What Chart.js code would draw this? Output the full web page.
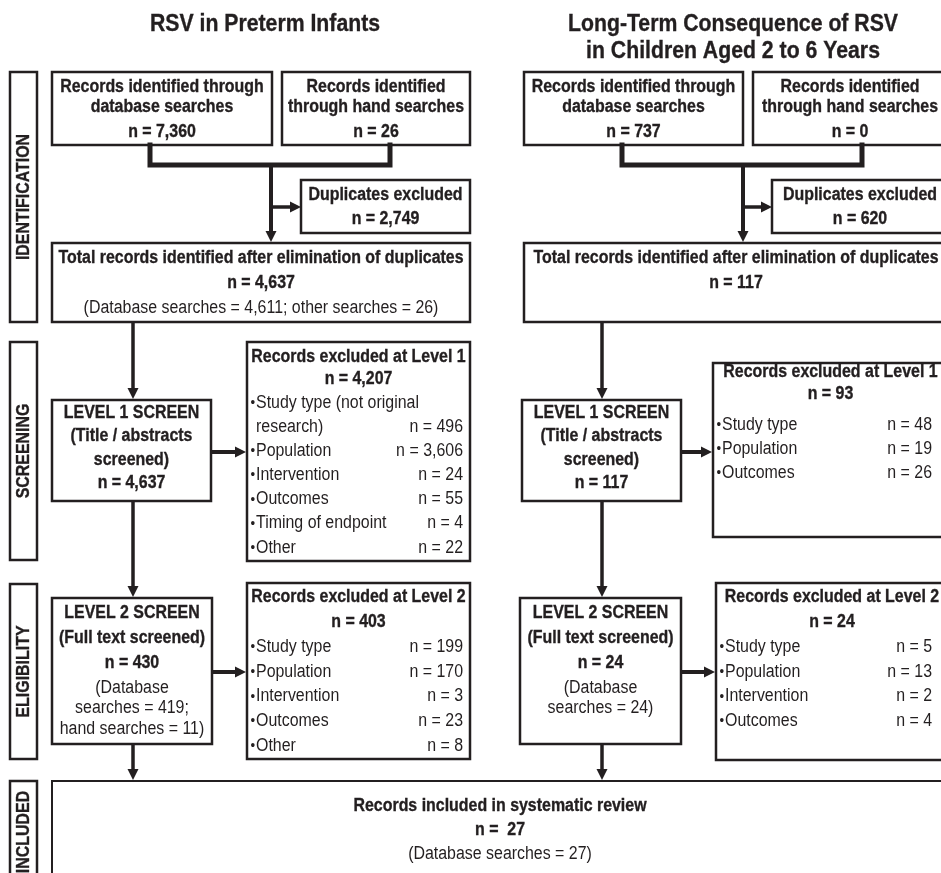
<!DOCTYPE html>
<html>
<head>
<meta charset="utf-8">
<script src="https://cdn.jsdelivr.net/npm/chart.js@4.4.1/dist/chart.umd.min.js"></script>
<style>
  html, body { margin: 0; padding: 0; background: #fff; }
</style>
</head>
<body>
<canvas id="flow" width="941" height="873"></canvas>
<script>
// Counts of the two systematic-review flows (preterm infants / long-term consequence)
const columnTitles = [['RSV in Preterm Infants'], ['Long-Term Consequence of RSV', 'in Children Aged 2 to 6 Years']];
const stageLabels = ['IDENTIFICATION', 'SCREENING', 'ELIGIBILITY', 'INCLUDED'];

const databaseRecords = [7360, 737];
const handRecords = [26, 0];
const duplicatesExcluded = [2749, 620];
const totalAfterDuplicates = [4637, 117];
const totalFromDatabase = [4611, null];
const totalFromOther = [26, null];

const level1Screened = [4637, 117];
const level1Excluded = [4207, 93];
const level1Reasons = [
  ['Study type (not original\nresearch)', 'Population', 'Intervention', 'Outcomes', 'Timing of endpoint', 'Other'],
  ['Study type', 'Population', 'Outcomes'],
];
const level1Counts = [
  [496, 3606, 24, 55, 4, 22],
  [48, 19, 26],
];

const level2Screened = [430, 24];
const level2FromDatabase = [419, 24];
const level2FromHand = [11, null];
const level2Excluded = [403, 24];
const level2Reasons = [
  ['Study type', 'Population', 'Intervention', 'Outcomes', 'Other'],
  ['Study type', 'Population', 'Intervention', 'Outcomes'],
];
const level2Counts = [
  [199, 170, 3, 23, 8],
  [5, 13, 2, 4],
];

const includedTotal = 27;
const includedFromDatabase = 27;

// layout of the diagram (in axis units, same as pixels here)
const layout = [
  {
    titleX: 265, titleY: [24],
    db: [52, 72, 272, 145], hand: [282, 72, 470, 145],
    joinL: 150, joinR: 390, joinY: 165, trunk: 271, branchY: 207,
    dup: [301, 180, 470, 233], total: [52, 243, 470, 322],
    mid: 133,
    l1: [52, 400, 211, 501], ex1: [247, 342, 470, 561], ex1Y: [357, 379, 403], ex1Step: 24.1,
    l2: [52, 598, 212, 744], ex2: [247, 583, 470, 759], ex2Y: [597, 622, 647], ex2Step: 24.75,
    arrow1Y: 452, arrow2Y: 672, valueX: 463,
  },
  {
    titleX: 733, titleY: [24, 51],
    db: [524, 72, 743, 145], hand: [753, 72, 947, 145],
    joinL: 622, joinR: 862, joinY: 165, trunk: 743, branchY: 207,
    dup: [772, 180, 948, 233], total: [524, 243, 948, 322],
    mid: 602,
    l1: [522, 400, 681, 501], ex1: [713, 363, 948, 537], ex1Y: [372, 394, 425], ex1Step: 24,
    l2: [520, 598, 681, 744], ex2: [716, 583, 948, 760], ex2Y: [597, 622, 647], ex2Step: 24.75,
    arrow1Y: 452, arrow2Y: 672, valueX: 932,
  },
];
const stageBoxes = [[10, 72, 37, 322], [10, 342, 37, 560], [10, 584, 37, 759], [10, 781, 37, 900]];
const includedBox = [52, 781, 960, 900];

const INK = '#231f20';
const FAMILY = '"Liberation Sans", Arial, Helvetica, sans-serif';
const NARROW = 0.885; // horizontal squeeze to look like a condensed face
const fmt = v => v.toLocaleString('en-US');

const flowPlugin = {
  id: 'flow',
  afterDraw(chart) {
    const ctx = chart.ctx;
    const X = v => chart.scales.x.getPixelForValue(v);
    const Y = v => chart.scales.y.getPixelForValue(v);

    function text(str, x, y, bold, size, align) {
      ctx.save();
      ctx.translate(X(x), Y(y));
      ctx.scale(NARROW, 1);
      ctx.font = (bold ? 'bold ' : '') + (size || 18) + 'px ' + FAMILY;
      ctx.fillStyle = INK;
      ctx.textAlign = align || 'center';
      ctx.textBaseline = 'middle';
      ctx.fillText(str, 0, 0);
      if (bold) {
        ctx.lineWidth = 0.35;
        ctx.strokeStyle = INK;
        ctx.strokeText(str, 0, 0);
      }
      ctx.restore();
    }
    function box(b, lw) {
      ctx.lineWidth = lw || 2.5;
      ctx.strokeStyle = INK;
      ctx.strokeRect(X(b[0]), Y(b[1]), X(b[2]) - X(b[0]), Y(b[3]) - Y(b[1]));
    }
    function line(pts, lw) {
      ctx.lineWidth = lw;
      ctx.strokeStyle = INK;
      ctx.lineJoin = 'miter';
      ctx.lineCap = 'square';
      ctx.beginPath();
      pts.forEach((p, i) => i ? ctx.lineTo(X(p[0]), Y(p[1])) : ctx.moveTo(X(p[0]), Y(p[1])));
      ctx.stroke();
    }
    function arrow(x1, y1, x2, y2, lw) {
      const len = 11, half = 5.5;
      const ang = Math.atan2(Y(y2) - Y(y1), X(x2) - X(x1));
      const bx = X(x2) - Math.cos(ang) * len, by = Y(y2) - Math.sin(ang) * len;
      ctx.lineCap = 'butt';
      ctx.lineWidth = lw || 3.5;
      ctx.strokeStyle = INK;
      ctx.beginPath();
      ctx.moveTo(X(x1), Y(y1));
      ctx.lineTo(bx + Math.cos(ang) * 2, by + Math.sin(ang) * 2);
      ctx.stroke();
      ctx.fillStyle = INK;
      ctx.beginPath();
      ctx.moveTo(X(x2), Y(y2));
      ctx.lineTo(bx - Math.sin(ang) * half, by + Math.cos(ang) * half);
      ctx.lineTo(bx + Math.sin(ang) * half, by - Math.cos(ang) * half);
      ctx.closePath();
      ctx.fill();
    }
    const cx = b => (b[0] + b[2]) / 2;

    ctx.save();
    // stage side labels
    stageBoxes.forEach((b, i) => {
      box(b);
      ctx.save();
      const my = i === 3 ? 832 : (b[1] + b[3]) / 2;
      ctx.translate(X(cx(b)) + 1, Y(my));
      ctx.rotate(-Math.PI / 2);
      ctx.scale(NARROW, 1);
      ctx.font = 'bold 18px ' + FAMILY;
      ctx.fillStyle = INK;
      ctx.textAlign = 'center';
      ctx.textBaseline = 'middle';
      ctx.fillText(stageLabels[i], 0, 0);
      ctx.lineWidth = 0.35;
      ctx.strokeStyle = INK;
      ctx.strokeText(stageLabels[i], 0, 0);
      ctx.restore();
    });

    layout.forEach((L, c) => {
      L.titleY.forEach((y, k) => text(columnTitles[c][k], L.titleX, y, true, 24));

      box(L.db);
      text('Records identified through', cx(L.db), 87, true);
      text('database searches', cx(L.db), 107, true);
      text('n = ' + fmt(databaseRecords[c]), cx(L.db), 132, true);

      box(L.hand);
      text('Records identified', cx(L.hand), 87, true);
      text('through hand searches', cx(L.hand), 107, true);
      text('n = ' + fmt(handRecords[c]), cx(L.hand), 132, true);

      line([[L.joinL, L.db[3]], [L.joinL, L.joinY], [L.joinR, L.joinY], [L.joinR, L.hand[3]]], 5);
      arrow(L.trunk, L.joinY, L.trunk, L.total[1] - 1, 4);
      arrow(L.trunk, L.branchY, L.dup[0], L.branchY, 3.5);

      box(L.dup);
      text('Duplicates excluded', cx(L.dup), 195, true);
      text('n = ' + fmt(duplicatesExcluded[c]), cx(L.dup), 219, true);

      box(L.total);
      text('Total records identified after elimination of duplicates', cx(L.total), 258, true);
      text('n = ' + fmt(totalAfterDuplicates[c]), cx(L.total), 283, true);
      if (totalFromDatabase[c] !== null) {
        text('(Database searches = ' + fmt(totalFromDatabase[c]) + '; other searches = ' + fmt(totalFromOther[c]) + ')', cx(L.total), 308, false);
      }

      arrow(L.mid, L.total[3], L.mid, L.l1[1] - 1, 3.5);
      box(L.l1);
      ['LEVEL 1 SCREEN', '(Title / abstracts', 'screened)', 'n = ' + fmt(level1Screened[c])]
        .forEach((s, k) => text(s, cx(L.l1), 413 + k * 23.3, true));
      arrow(L.l1[2], L.arrow1Y, L.ex1[0] - 1, L.arrow1Y, 4);

      box(L.ex1);
      text('Records excluded at Level 1', cx(L.ex1), L.ex1Y[0], true);
      text('n = ' + fmt(level1Excluded[c]), cx(L.ex1), L.ex1Y[1], true);
      let y = L.ex1Y[2];
      level1Reasons[c].forEach((r, k) => {
        const parts = r.split('\n');
        text('\u2022', L.ex1[0] + 3.5, y, false, 15, 'left');
        parts.forEach((p, j) => {
          text(p, L.ex1[0] + 9, y, false, 18, 'left');
          if (j === parts.length - 1) text('n = ' + fmt(level1Counts[c][k]), L.valueX, y, false, 18, 'right');
          y += L.ex1Step;
        });
      });

      arrow(L.mid, L.l1[3], L.mid, L.l2[1] - 1, 3.5);
      box(L.l2);
      text('LEVEL 2 SCREEN', cx(L.l2), 613, true);
      text('(Full text screened)', cx(L.l2), 638, true);
      text('n = ' + fmt(level2Screened[c]), cx(L.l2), 663, true);
      text('(Database', cx(L.l2), 688, false);
      if (level2FromHand[c] !== null) {
        text('searches = ' + fmt(level2FromDatabase[c]) + ';', cx(L.l2), 708.5, false);
        text('hand searches = ' + fmt(level2FromHand[c]) + ')', cx(L.l2), 729, false);
      } else {
        text('searches = ' + fmt(level2FromDatabase[c]) + ')', cx(L.l2), 708.5, false);
      }
      arrow(L.l2[2], L.arrow2Y, L.ex2[0] - 1, L.arrow2Y, 4);

      box(L.ex2);
      text('Records excluded at Level 2', cx(L.ex2), L.ex2Y[0], true);
      text('n = ' + fmt(level2Excluded[c]), cx(L.ex2), L.ex2Y[1], true);
      level2Reasons[c].forEach((r, k) => {
        const yy = L.ex2Y[2] + k * L.ex2Step;
        text('\u2022', L.ex2[0] + 3.5, yy, false, 15, 'left');
        text(r, L.ex2[0] + 9, yy, false, 18, 'left');
        text('n = ' + fmt(level2Counts[c][k]), L.valueX, yy, false, 18, 'right');
      });

      arrow(L.mid, L.l2[3], L.mid, includedBox[1] - 1, 3.5);
    });

    box(includedBox, 2);
    text('Records included in systematic review', 500, 806, true);
    text('n =  ' + fmt(includedTotal), 500, 830, true);
    text('(Database searches = ' + fmt(includedFromDatabase) + ')', 500, 854, false);
    ctx.restore();
  }
};

const ctx = document.getElementById('flow').getContext('2d');
const flowChart = new Chart(ctx, {
  type: 'scatter',
  data: { datasets: [{ data: [] }] },
  options: {
    responsive: false,
    animation: false,
    layout: { padding: 0 },
    plugins: { legend: { display: false }, tooltip: { enabled: false } },
    scales: {
      x: { type: 'linear', min: 0, max: 941, display: false },
      y: { type: 'linear', min: 0, max: 873, reverse: true, display: false },
    },
  },
  plugins: [flowPlugin],
});
</script>
</body>
</html>
